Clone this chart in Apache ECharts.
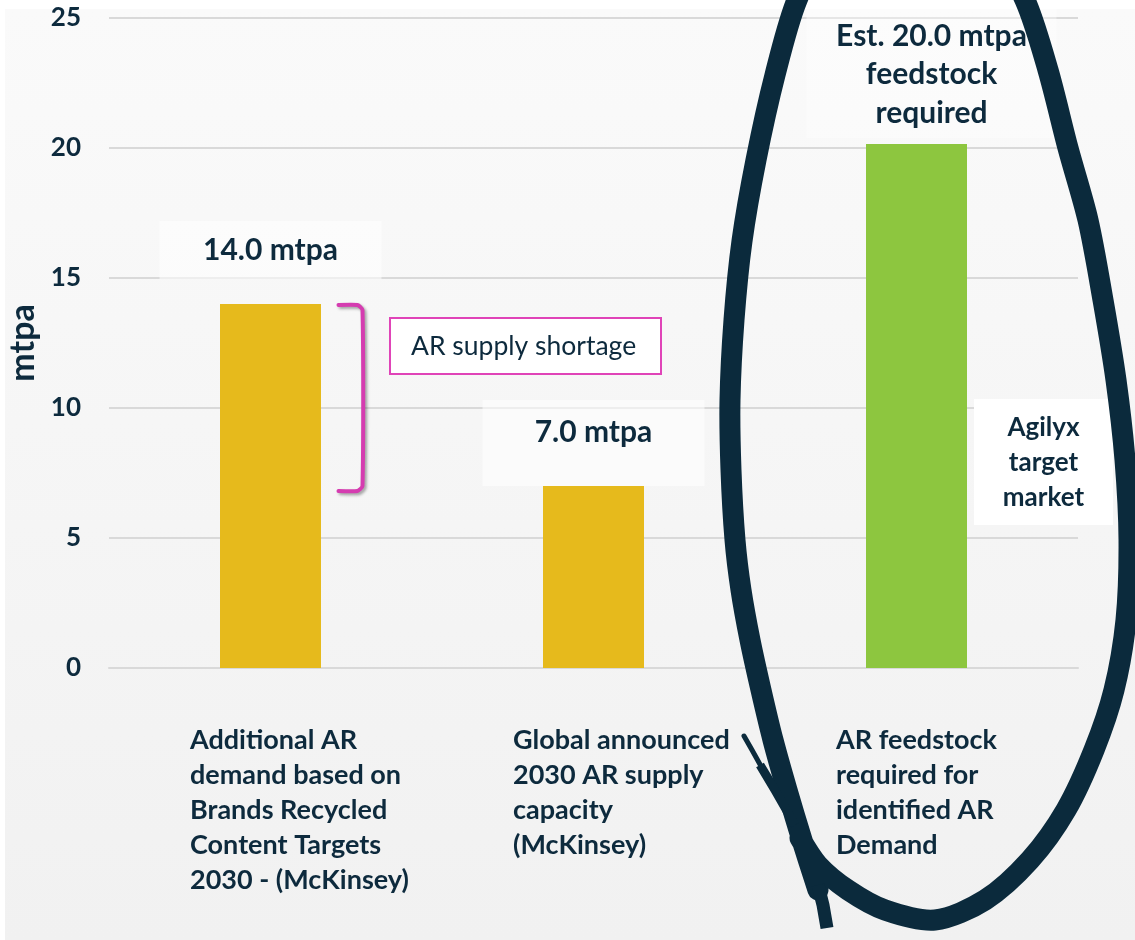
<!DOCTYPE html>
<html><head><meta charset="utf-8">
<script src="https://cdn.jsdelivr.net/npm/echarts@6/dist/echarts.min.js"></script>
<style>html,body{margin:0;padding:0;background:#fff;}#c{width:1135px;height:940px;}</style>
</head><body><div id="c"></div>
<script>
// ---- data ----
const categories = [
  'Additional AR\ndemand based on\nBrands Recycled\nContent Targets\n2030 - (McKinsey)',
  'Global announced\n2030 AR supply\ncapacity\n(McKinsey)',
  'AR feedstock\nrequired for\nidentified AR\nDemand'
];
const values = [14.0, 7.0, 20.15];
const valueLabels = ['14.0 mtpa', '7.0 mtpa', 'Est. 20.0 mtpa\nfeedstock\nrequired'];
const yTicks = [0, 5, 10, 15, 20, 25];
const yAxisName = 'mtpa';
const shortageNote = 'AR supply shortage';
const targetNote = 'Agilyx\ntarget\nmarket';

// ---- styles ----
const NAVY = '#0d2a3d';
const FONT = 'Lato';
const barColors = ['#E6BA1C', '#E6BA1C', '#8DC63F'];
const labelStyles = [
  {distance: 25, width: 222, lineHeight: 58, backgroundColor: 'rgba(255,255,255,0.55)'},
  {distance: 0, width: 222, lineHeight: 64, padding: [0, 0, 22, 0], backgroundColor: 'rgba(255,255,255,0.55)'},
  {distance: 6, width: 250, lineHeight: 38.5, offset: [15, 0], padding: [9, 0, 6, 0], backgroundColor: 'rgba(255,255,255,0.35)'}
];

const chart = echarts.init(document.getElementById('c'), null, {renderer: 'canvas'});

const option = {
  backgroundColor: '#ffffff',
  animation: false,
  grid: {left: 109, right: 57, top: 18, bottom: 272, containLabel: false, outerBoundsMode: 'none'},
  xAxis: {
    type: 'category',
    data: categories,
    axisLine: {show: true, lineStyle: {color: '#d9d9d9', width: 2}},
    axisTick: {show: false},
    axisLabel: {
      interval: 0,
      margin: 55,
      formatter: v => v.split('\n').map(l => '{c|' + l + '}').join('\n'),
      rich: {c: {width: 161, align: 'left', fontFamily: FONT, fontWeight: 'bold', fontSize: 27, lineHeight: 35, color: NAVY}}
    }
  },
  yAxis: {
    type: 'value',
    min: yTicks[0],
    max: yTicks[yTicks.length - 1],
    interval: yTicks[1] - yTicks[0],
    name: yAxisName,
    nameLocation: 'middle',
    nameGap: 69,
    nameRotate: 90,
    nameTextStyle: {fontFamily: FONT, fontWeight: 'bold', fontSize: 34, color: NAVY},
    axisLine: {show: false},
    axisTick: {show: false},
    axisLabel: {margin: 28, fontFamily: FONT, fontWeight: 'bold', fontSize: 26, color: NAVY},
    splitLine: {lineStyle: {color: '#d9d9d9', width: 2}}
  },
  series: [{
    type: 'bar',
    barWidth: 101,
    data: values.map((v, i) => ({
      value: v,
      itemStyle: {color: barColors[i]},
      label: Object.assign({
        show: true,
        position: 'top',
        formatter: valueLabels[i],
        fontFamily: FONT,
        fontWeight: 'bold',
        fontSize: 30,
        color: NAVY,
        align: 'center'
      }, labelStyles[i])
    }))
  }]
};
chart.setOption(option);

// ---- annotations positioned from the axes ----
const p14 = chart.convertToPixel({seriesIndex: 0}, [0, values[0]]);
const p7 = chart.convertToPixel({seriesIndex: 0}, [1, values[1]]);
const bx = p14[0];
const yTop = p14[1] + 1, yBot = p7[1] + 5;

// hand-drawn loop around the third bar (decoration)
const loopPts = [
  [818, 890], [802, 840], [787, 790], [773, 740], [761, 690], [750, 640], [741, 590], [735, 540],
  [731, 470], [730, 400], [734, 320], [742, 241], [756, 160], [775, 75], [797, 0], [830, -60],
  [910, -100], [990, -60], [1025, 0], [1048, 70], [1068, 148], [1088, 220], [1103, 300], [1116, 380],
  [1125, 460], [1129, 540], [1126, 620], [1114, 690], [1094, 750], [1066, 810], [1030, 860],
  [985, 900], [935, 920], [885, 910], [848, 890], [818, 865], [800, 838]
];
const INK = '#0b2a3c';

chart.setOption({
  graphic: [
    {
      type: 'rect', z: -10, silent: true,
      shape: {x: 5, y: 9, width: 1130, height: 931},
      style: {fill: {type: 'linear', x: 0, y: 0, x2: 0, y2: 1, colorStops: [
        {offset: 0, color: '#fafafa'}, {offset: 1, color: '#f1f1f1'}
      ]}}
    },
    {
      type: 'polyline', z: 20, silent: true,
      shape: {points: [[bx + 68, yTop], [bx + 87, yTop], [bx + 92, yTop + 5], [bx + 92, yBot - 5], [bx + 87, yBot], [bx + 68, yBot]], smooth: 0.2},
      style: {fill: null, stroke: '#d53cb0', lineWidth: 4, lineCap: 'round', lineJoin: 'round',
        shadowColor: 'rgba(0,0,0,0.35)', shadowBlur: 3, shadowOffsetX: 2, shadowOffsetY: 2}
    },
    {
      type: 'text', z: 20, silent: true,
      x: 391, y: 319,
      style: {
        text: shortageNote, fill: NAVY, font: `26.5px ${FONT}`,
        align: 'left', verticalAlign: 'top',
        width: 227, lineHeight: 54,
        padding: [0, 22, 0, 20],
        backgroundColor: '#ffffff', borderColor: '#e044b8', borderWidth: 2
      }
    },
    {
      type: 'text', z: 20, silent: true,
      x: 1043.5, y: 399,
      style: {
        text: targetNote, fill: NAVY, font: `bold 26px ${FONT}`,
        align: 'center', verticalAlign: 'top',
        width: 139, lineHeight: 35,
        padding: [11.5, 0, 9.5, 0],
        backgroundColor: '#ffffff'
      }
    },
    {
      type: 'polyline', z: 30, silent: true,
      shape: {points: loopPts, smooth: 0.3},
      style: {fill: null, stroke: INK, lineWidth: 21, lineCap: 'round', lineJoin: 'round'}
    },
    {
      type: 'polyline', z: 30, silent: true,
      shape: {points: [[818, 885], [823, 905], [827, 928]]},
      style: {fill: null, stroke: INK, lineWidth: 13, lineCap: 'butt'}
    },
    {
      type: 'polyline', z: 30, silent: true,
      shape: {points: [[795, 825], [775, 790], [760, 765]]},
      style: {fill: null, stroke: INK, lineWidth: 9, lineCap: 'butt'}
    },
    {
      type: 'polyline', z: 30, silent: true,
      shape: {points: [[762, 768], [752, 750], [744, 736]]},
      style: {fill: null, stroke: INK, lineWidth: 5, lineCap: 'round'}
    }
  ]
});
</script>
</body></html>
